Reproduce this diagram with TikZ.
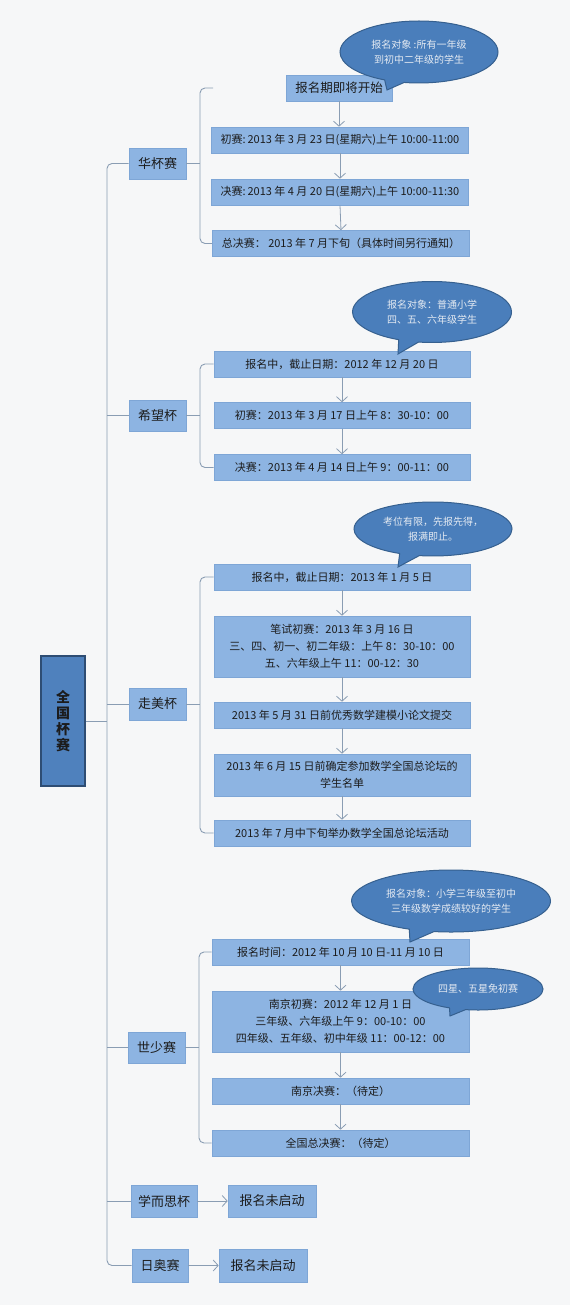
\documentclass[tikz,border=0pt]{standalone}
\usepackage{fontspec}
\setmainfont{Noto Sans CJK SC}
\usetikzlibrary{shapes.callouts,arrows.meta}
\definecolor{bgc}{HTML}{F6F7F8}
\definecolor{boxfill}{HTML}{8DB4E2}
\definecolor{boxline}{HTML}{7EA6D6}
\definecolor{rootfill}{HTML}{4F81BD}
\definecolor{rootline}{HTML}{2E4D73}
\definecolor{callfill}{HTML}{4A7EBB}
\definecolor{callline}{HTML}{36608F}
\definecolor{calltext}{HTML}{E4EAF2}
\definecolor{linec}{HTML}{8A9DB3}
\definecolor{txt}{HTML}{1C1C1C}
\tikzset{
  bx/.style={draw=boxline, line width=0.6pt, fill=boxfill, text=txt, inner sep=0pt, align=center,
     font=\fontsize{11}{17}\selectfont},
  lvone/.style={bx, font=\fontsize{13}{15}\selectfont},
  rootbox/.style={draw=rootline, line width=1.2pt, fill=rootfill, text=txt, inner sep=0pt, align=center,
     font=\fontsize{14}{16}\selectfont\bfseries},
  callout/.style={ellipse callout, draw=callline, line width=1pt, fill=callfill, text=calltext,
     inner sep=0pt, align=center, font=\fontsize{10}{15.5}\selectfont},
  brline/.style={draw=linec, line width=0.9pt, rounded corners=5pt},
  arr/.style={draw=linec, line width=0.8pt, -{Straight Barb[length=5pt,width=11pt]}},
}
\begin{document}
\begin{tikzpicture}[x=1pt,y=-1pt]
\fill[bgc] (0,0) rectangle (570,1305);
\useasboundingbox (0,0) rectangle (570,1305);

% root
\node[rootbox, minimum width=44, minimum height=130] (root) at (63,721) {全\\国\\杯\\赛};

% level one
\node[lvone, minimum width=57, minimum height=31] (hb) at (157.5,163.5) {华杯赛};
\node[lvone, minimum width=57, minimum height=31] (xw) at (157.5,415.5) {希望杯};
\node[lvone, minimum width=57, minimum height=32] (zm) at (157.5,704) {走美杯};
\node[lvone, minimum width=57, minimum height=31] (ss) at (156.5,1047.5) {世少赛};
\node[lvone, minimum width=66, minimum height=32] (xe) at (164,1201) {学而思杯};
\node[lvone, minimum width=56, minimum height=33] (ra) at (160,1265.5) {日奥赛};
\node[lvone, minimum width=88, minimum height=32] (xe1) at (272,1201) {报名未启动};
\node[lvone, minimum width=88, minimum height=33] (ra1) at (263,1265.5) {报名未启动};

% root brace
\coordinate (rtip) at (107,721);
\draw[brline] (hb.west) -- (107,163.5) -- (107,1265.5) -- (ra.west);
\draw[draw=linec, line width=0.9pt] (root.east) -- (rtip);
\draw[draw=linec, line width=0.9pt] (107,415.5) -- (xw.west);
\draw[draw=linec, line width=0.9pt] (107,704) -- (zm.west);
\draw[draw=linec, line width=0.9pt] (107,1047.5) -- (ss.west);
\draw[draw=linec, line width=0.9pt] (107,1201) -- (xe.west);
\draw[arr] (xe.east) -- (xe1.west);
\draw[arr] (ra.east) -- (ra1.west);

% 华杯赛
\node[bx, font=\fontsize{12.5}{15}\selectfont, minimum width=106, minimum height=26] (hb1) at (339,88) {报名期即将开始};
\node[bx, minimum width=257, minimum height=26] (hb2) at (340,140) {初赛:\,2013 年 3 月 23 日(星期六)上午 10:00-11:00};
\node[bx, minimum width=257, minimum height=26] (hb3) at (340,192) {决赛:\,2013 年 4 月 20 日(星期六)上午 10:00-11:30};
\node[bx, minimum width=257, minimum height=26] (hb4) at (341,243.5) {总决赛： 2013 年 7 月下旬（具体时间另行通知）};
\coordinate (hbtop) at (213,88);
\draw[brline] (hbtop) -- (200,88) -- (200,243.5) -- (hb4.west);
\draw[draw=linec, line width=0.9pt] (hb.east) -- (200,163.5);
\draw[arr] (hb1.south) -- (hb1.south |- hb2.north);
\draw[arr] (hb2.south) -- (hb3.north);
\draw[arr] (hb3.south) -- (hb4.north);
\node[callout, minimum width=158, minimum height=62, callout absolute pointer={(387,90)}] (c1) at (419,52) {报名对象 :所有一年级\\到初中二年级的学生};

% 希望杯
\node[bx, minimum width=256, minimum height=26] (xw1) at (342,364) {报名中，截止日期：2012 年 12 月 20 日};
\node[bx, minimum width=256, minimum height=26] (xw2) at (342,415.5) {初赛：2013 年 3 月 17 日上午 8：30-10：00};
\node[bx, minimum width=256, minimum height=26] (xw3) at (342,467.5) {决赛：2013 年 4 月 14 日上午 9：00-11：00};
\draw[brline] (xw1.west) -- (200,364) -- (200,467.5) -- (xw3.west);
\draw[draw=linec, line width=0.9pt] (xw.east) -- (200,415.5);
\draw[arr] (xw1.south) -- (xw2.north);
\draw[arr] (xw2.south) -- (xw3.north);
\node[callout, minimum width=159, minimum height=61, callout absolute pointer={(398,354)}] (c2) at (432,312) {报名对象：普通小学\\四、五、六年级学生};

% 走美杯
\node[bx, minimum width=256, minimum height=26] (zm1) at (342,577) {报名中，截止日期：2013 年 1 月 5 日};
\node[bx, minimum width=256, minimum height=61] (zm2) at (342,646.5) {笔试初赛：2013 年 3 月 16 日\\三、四、初一、初二年级：上午 8：30-10：00\\五、六年级上午 11：00-12：30};
\node[bx, minimum width=256, minimum height=26] (zm3) at (342,715) {2013 年 5 月 31 日前优秀数学建模小论文提交};
\node[bx, minimum width=256, minimum height=42] (zm4) at (342,775) {2013 年 6 月 15 日前确定参加数学全国总论坛的\\学生名单};
\node[bx, minimum width=256, minimum height=26] (zm5) at (342,833) {2013 年 7 月中下旬举办数学全国总论坛活动};
\draw[brline] (zm1.west) -- (200,577) -- (200,833) -- (zm5.west);
\draw[draw=linec, line width=0.9pt] (zm.east) -- (200,704);
\draw[arr] (zm1.south) -- (zm2.north);
\draw[arr] (zm2.south) -- (zm3.north);
\draw[arr] (zm3.south) -- (zm4.north);
\draw[arr] (zm4.south) -- (zm5.north);
\node[callout, minimum width=158, minimum height=54, callout absolute pointer={(398,567)}] (c3) at (433,529) {考位有限，先报先得，\\报满即止。};

% 世少赛
\node[bx, minimum width=257, minimum height=26] (ss1) at (340.5,952) {报名时间：2012 年 10 月 10 日-11 月 10 日};
\node[bx, minimum width=257, minimum height=61] (ss2) at (340.5,1021.5) {南京初赛：2012 年 12 月 1 日\\三年级、六年级上午 9：00-10：00\\四年级、五年级、初中年级 11：00-12：00};
\node[bx, minimum width=257, minimum height=26] (ss3) at (340.5,1091) {南京决赛：（待定）};
\node[bx, minimum width=257, minimum height=26] (ss4) at (340.5,1143) {全国总决赛：（待定）};
\draw[brline] (ss1.west) -- (199,952) -- (199,1143) -- (ss4.west);
\draw[draw=linec, line width=0.9pt] (ss.east) -- (199,1047.5);
\draw[arr] (ss1.south) -- (ss2.north);
\draw[arr] (ss2.south) -- (ss3.north);
\draw[arr] (ss3.south) -- (ss4.north);
\node[callout, minimum width=199, minimum height=62, callout absolute pointer={(410,942)}] (c4) at (451,901) {报名对象：小学三年级至初中\\三年级数学成绩较好的学生};
\node[callout, minimum width=130, minimum height=42, callout absolute pointer={(450,1016)}] (c5) at (478,989) {四星、五星免初赛};
\end{tikzpicture}
\end{document}
